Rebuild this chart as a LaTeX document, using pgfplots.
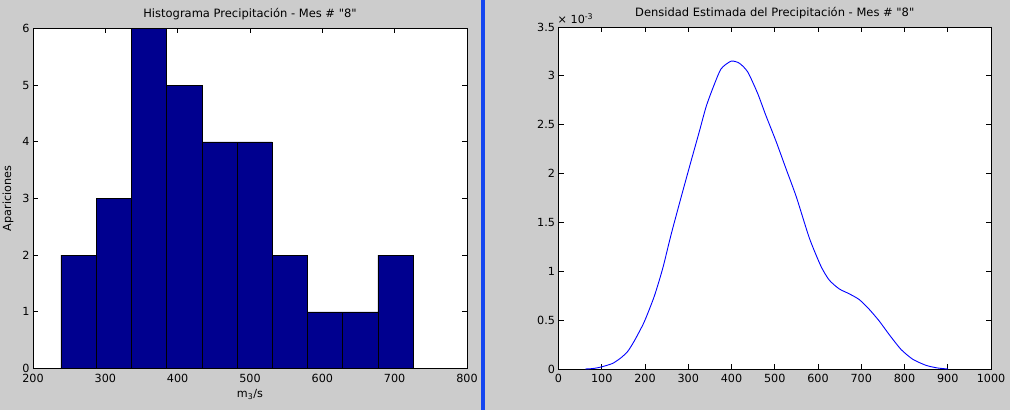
\documentclass[border=0pt]{standalone}
\usepackage{pgfplots}
\pgfplotsset{compat=1.18}
\usepackage{fontspec}
\setmainfont{DejaVu Sans}[Ligatures=TeXOff]
\definecolor{bggray}{RGB}{204,204,204}
\definecolor{sepblue}{RGB}{20,70,240}
\definecolor{histblue}{RGB}{0,0,143}
\newcommand{\fs}{\fontsize{11.2}{13}\selectfont}
\newcommand{\tfs}{\fontsize{11.5}{13}\selectfont}
\pgfplotsset{
  every axis/.append style={
    scale only axis,
    axis background/.style={fill=white},
    tick align=inside,
    major tick length=5pt,
    tick style={black, line width=0.8pt},
    axis line style={black, line width=0.9pt},
    tick label style={font=\fs},
    xticklabel style={yshift=-2pt},
    /pgf/number format/assume math mode=true,
    /pgf/number format/1000 sep={},
    label style={font=\fs},
    title style={font=\tfs, yshift=-1pt},
  }
}
\begin{document}
\begin{tikzpicture}
\fill[bggray] (0pt,0pt) rectangle (1010pt,410pt);
\fill[sepblue] (481pt,0pt) rectangle (485pt,410pt);
\begin{pgfinterruptboundingbox}
\begin{axis}[
  at={(33pt,41.5pt)}, anchor=south west,
  width=434pt, height=340pt,
  xmin=200, xmax=800, ymin=0, ymax=6,
  xtick={200,300,...,800}, ytick={0,1,...,6},
  title={Histograma Precipitación - Mes \# "8"},
  xlabel={m\textsubscript{3}/s},
  ylabel={Apariciones},
  xlabel style={yshift=0pt},
  ylabel style={yshift=2pt},
]
\addplot[ybar interval, fill=histblue, draw=black, line width=0.6pt] coordinates {
(238.7,2) (287.4,3) (336.1,6) (384.7,5) (433.4,4) (482.1,4) (530.7,2) (579.4,1) (628.1,1) (676.7,2) (725.4,2)
};
\end{axis}
\begin{axis}[
  at={(558.5pt,41pt)}, anchor=south west,
  width=432.5pt, height=342pt,
  xmin=0, xmax=1000, ymin=0, ymax=0.0035,
  xtick={0,100,...,1000}, ytick={0,0.0005,0.001,0.0015,0.002,0.0025,0.003,0.0035},
  scaled y ticks=base 10:3,
  ytick scale label code/.code={× 10\textsuperscript{#1}},
  every y tick scale label/.style={at={(rel axis cs:0,1)}, anchor=south west, inner sep=1pt, yshift=2pt, xshift=-2pt, font=\fs},
  yticklabel style={/pgf/number format/fixed},
  title={Densidad Estimada del Precipitación - Mes \# "8"},
]
\addplot[blue, line width=0.9pt, smooth, tension=0.4] coordinates {
(62,0) (80,0.000005) (98,0.00002) (125,0.000057) (144.5,0.000115) (160,0.00018) (175,0.000285) (198,0.00048) (221.5,0.000745) (241,0.00103) (260,0.00137) (283,0.00175) (306,0.00212) (325.6,0.00243) (341,0.00268) (356.5,0.00287) (375.7,0.00307) (399,0.00315) (418,0.00313) (437.5,0.00304) (460.5,0.00282) (479,0.0026) (503,0.00233) (526,0.00205) (550,0.00176) (580,0.00134) (607,0.00105) (626,0.00091) (649,0.00082) (672,0.00077) (695.5,0.00071) (718.6,0.00061) (741.7,0.00049) (765,0.00035) (792,0.0002) (819,0.0001) (850,0.000037) (877,0.00001) (901,0)
};
\end{axis}
\end{pgfinterruptboundingbox}
\end{tikzpicture}
\end{document}
